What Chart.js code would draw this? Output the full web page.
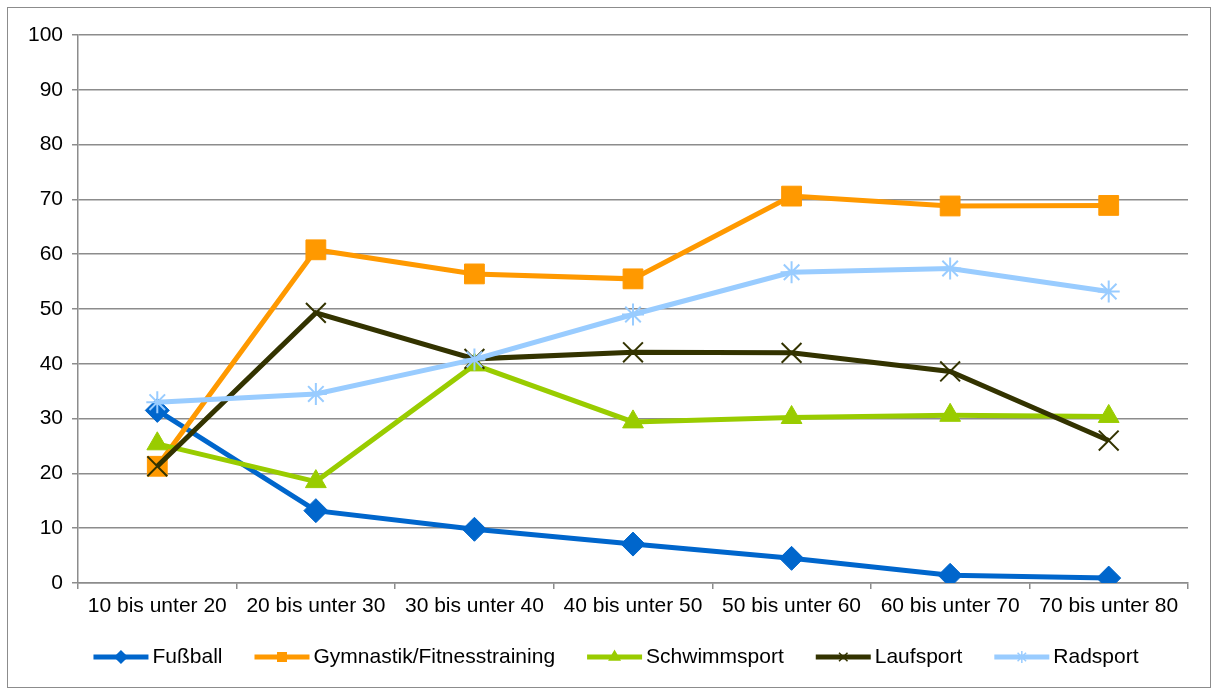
<!DOCTYPE html>
<html lang="de">
<head>
  <meta charset="UTF-8">
  <title>Sportarten nach Altersgruppen</title>
  <script src="https://cdn.jsdelivr.net/npm/chart.js"></script>
  <style>
    body {
      margin: 0;
      background: #ffffff;
      font-family: "Liberation Sans", Arial, sans-serif;
    }
    .frame {
      position: absolute;
      left: 7px;
      top: 7px;
      width: 1202px;
      height: 679px;
      border: 1px solid #8c8c8c;
    }
  </style>
</head>
<body>
  <div class="frame">
    <canvas id="lineChart" width="1202" height="679"></canvas>
  </div>

  <script>
    const categories = ['10 bis unter 20', '20 bis unter 30', '30 bis unter 40', '40 bis unter 50',
                        '50 bis unter 60', '60 bis unter 70', '70 bis unter 80'];

    const fussball = [31.5, 13.2, 9.8, 7.1, 4.5, 1.4, 0.9];
    const gymnastik = [21.3, 60.8, 56.4, 55.5, 70.6, 68.8, 68.9];
    const schwimmen = [25.4, 18.5, 39.8, 29.4, 30.2, 30.6, 30.4];
    const laufen = [21.3, 49.3, 40.9, 42.1, 42.0, 38.6, 26.0];
    const radsport = [33.0, 34.5, 40.8, 49.0, 56.7, 57.4, 53.2];

    const seriesNames = ['Fußball', 'Gymnastik/Fitnesstraining', 'Schwimmsport', 'Laufsport', 'Radsport'];
    const seriesData = [fussball, gymnastik, schwimmen, laufen, radsport];
    const colors = ['#0066cc', '#ff9900', '#99cc00', '#333300', '#99ccff'];
    const markers = ['rectRot', 'rect', 'triangle', 'crossRot', 'star'];
    const markerSize = [12, 14, 12, 14, 11];

    const FONT = '"Liberation Sans", Arial, sans-serif';

    const datasets = seriesNames.map((name, i) => ({
      label: name,
      data: seriesData[i],
      borderColor: colors[i],
      backgroundColor: colors[i],
      borderWidth: 5,
      pointStyle: markers[i],
      pointRadius: markerSize[i],
      pointBorderWidth: (markers[i] === 'crossRot' || markers[i] === 'star') ? 2 : 1,
      pointBorderColor: colors[i],
      pointBackgroundColor: colors[i],
      tension: 0,
      order: seriesNames.length - i
    }));

    // legend with a short line and the marker in the middle, like the original
    const lineLegend = {
      id: 'lineLegend',
      afterDraw(chart) {
        const ctx = chart.ctx;
        ctx.save();
        ctx.font = '21px ' + FONT;
        ctx.textBaseline = 'middle';
        const lineLen = 55, gap = 4, itemGap = 32;
        const widths = seriesNames.map(n => lineLen + gap + ctx.measureText(n).width);
        const total = widths.reduce((a, b) => a + b, 0) + itemGap * (widths.length - 1);
        let x = 608 - total / 2;
        const y = 649;
        seriesNames.forEach((name, i) => {
          ctx.strokeStyle = colors[i];
          ctx.lineWidth = 5;
          ctx.beginPath();
          ctx.moveTo(x, y);
          ctx.lineTo(x + lineLen, y);
          ctx.stroke();
          ctx.fillStyle = colors[i];
          ctx.lineWidth = 1.5;
          Chart.helpers.drawPoint(ctx, { pointStyle: markers[i], radius: 6, borderWidth: 1.5 }, x + lineLen / 2, y);
          ctx.fillStyle = '#000000';
          ctx.fillText(name, x + lineLen + gap, y);
          x += widths[i] + itemGap;
        });
        ctx.restore();
      }
    };

    new Chart(document.getElementById('lineChart'), {
      type: 'line',
      data: {
        labels: categories,
        datasets: datasets
      },
      options: {
        responsive: false,
        animation: false,
        layout: {
          padding: { top: 27, right: 22, bottom: 64, left: 0 }
        },
        plugins: {
          legend: { display: false },
          tooltip: { enabled: false }
        },
        scales: {
          x: {
            offset: true,
            grid: {
              offset: true,
              drawOnChartArea: false,
              drawTicks: true,
              tickLength: 6,
              color: '#8c8c8c',
              lineWidth: 1.5
            },
            border: { color: '#8c8c8c', width: 1.5 },
            ticks: {
              color: '#000000',
              font: { family: FONT, size: 21 },
              padding: 5,
              maxRotation: 0,
              autoSkip: false
            },
            afterFit(scale) { scale.height = 40; }
          },
          y: {
            min: 0,
            max: 100,
            ticks: {
              stepSize: 10,
              color: '#000000',
              font: { family: FONT, size: 21 },
              padding: 9
            },
            grid: {
              color: '#8c8c8c',
              lineWidth: 1.5,
              tickLength: 6
            },
            border: { color: '#8c8c8c', width: 1.5 },
            afterFit(scale) { scale.width = 70; }
          }
        }
      },
      plugins: [lineLegend]
    });
  </script>
</body>
</html>
